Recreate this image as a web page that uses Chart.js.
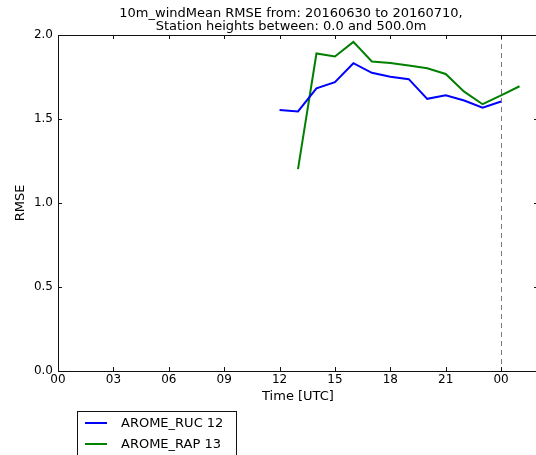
<!DOCTYPE html>
<html>
<head>
<meta charset="utf-8">
<script src="https://cdn.jsdelivr.net/npm/chart.js@4/dist/chart.umd.min.js"></script>
<style>
  html, body { margin: 0; padding: 0; background: #fff; overflow: hidden; width: 536px; height: 455px; }
  #rmseChart { position: absolute; left: 0; top: 0; }
</style>
</head>
<body>
<canvas id="rmseChart" width="545" height="455"></canvas>
<script>
const titleLines = ["10m_windMean RMSE from: 20160630 to 20160710,", "Station heights between: 0.0 and 500.0m"];

const rucLabel = "AROME_RUC 12";
const rucHours = [12, 13, 14, 15, 16, 17, 18, 19, 20, 21, 22, 23, 24];
const rucRmse = [1.554, 1.545, 1.683, 1.719, 1.832, 1.775, 1.751, 1.737, 1.620, 1.641, 1.610, 1.568, 1.604];

const rapLabel = "AROME_RAP 13";
const rapHours = [13, 14, 15, 16, 17, 18, 19, 20, 21, 22, 23, 24, 25];
const rapRmse = [1.202, 1.890, 1.872, 1.959, 1.842, 1.834, 1.818, 1.802, 1.768, 1.663, 1.588, 1.641, 1.695];

const xTicks = [0, 3, 6, 9, 12, 15, 18, 21, 24];
const xTickLabels = ["00", "03", "06", "09", "12", "15", "18", "21", "00"];
const yTicks = [0, 0.5, 1.0, 1.5, 2.0];
const dayBreak = 24;

const FONT = "'DejaVu Sans', sans-serif";

function toPoints(hours, vals) {
  return hours.map((h, i) => ({ x: h, y: vals[i] }));
}

// frame, inward ticks, dashed day line, title and boxed legend
const decor = {
  id: "decor",
  beforeDatasetsDraw(chart) {
    const { ctx, chartArea: a, scales: { x } } = chart;
    const px = x.getPixelForValue(dayBreak);
    ctx.save();
    ctx.strokeStyle = "#7a7a7a";
    ctx.lineWidth = 1;
    ctx.setLineDash([5, 4]);
    ctx.beginPath();
    ctx.moveTo(Math.round(px) + 0.5, a.top);
    ctx.lineTo(Math.round(px) + 0.5, a.bottom);
    ctx.stroke();
    ctx.restore();
  },
  afterDraw(chart) {
    const { ctx, chartArea: a, scales: { x, y } } = chart;
    ctx.save();
    ctx.strokeStyle = "#111";
    ctx.lineWidth = 1;
    ctx.strokeRect(Math.round(a.left) + 0.5, Math.round(a.top) + 0.5,
      Math.round(a.right - a.left), Math.round(a.bottom - a.top));

    ctx.beginPath();
    xTicks.forEach(v => {
      const px = Math.round(x.getPixelForValue(v)) + 0.5;
      ctx.moveTo(px, a.bottom); ctx.lineTo(px, a.bottom - 4);
      ctx.moveTo(px, a.top); ctx.lineTo(px, a.top + 4);
    });
    yTicks.forEach(v => {
      const py = Math.round(y.getPixelForValue(v)) + 0.5;
      ctx.moveTo(a.left, py); ctx.lineTo(a.left + 4, py);
      ctx.moveTo(a.right, py); ctx.lineTo(a.right - 4, py);
    });
    ctx.stroke();

    // title
    ctx.fillStyle = "#000";
    ctx.font = "13px " + FONT;
    ctx.textAlign = "center";
    ctx.textBaseline = "middle";
    titleLines.forEach((t, i) => ctx.fillText(t, 291, 14 + i * 13));

    // legend
    const lx = 77.5, ly = 411.5, lw = 159, lh = 60;
    ctx.strokeStyle = "#111";
    ctx.strokeRect(lx, ly, lw, lh);
    ctx.font = "13px " + FONT;
    ctx.textAlign = "left";
    chart.data.datasets.forEach((ds, i) => {
      const ry = 423 + i * 21;
      ctx.strokeStyle = ds.borderColor;
      ctx.lineWidth = 2;
      ctx.beginPath();
      ctx.moveTo(85, ry); ctx.lineTo(107, ry);
      ctx.stroke();
      ctx.fillStyle = "#000";
      ctx.fillText(ds.label, 121, ry + 1);
    });
    ctx.restore();
  }
};

const ctx = document.getElementById("rmseChart").getContext("2d");
new Chart(ctx, {
  type: "line",
  data: {
    datasets: [
      {
        label: rucLabel,
        data: toPoints(rucHours, rucRmse),
        borderColor: "#0000ff",
        borderWidth: 2,
        pointRadius: 0,
        tension: 0,
        fill: false
      },
      {
        label: rapLabel,
        data: toPoints(rapHours, rapRmse),
        borderColor: "#008000",
        borderWidth: 2,
        pointRadius: 0,
        tension: 0,
        fill: false
      }
    ]
  },
  options: {
    responsive: false,
    animation: false,
    events: [],
    layout: { padding: { top: 35, right: 7, bottom: 50.2, left: 0 } },
    plugins: { legend: { display: false }, tooltip: { enabled: false }, title: { display: false } },
    scales: {
      x: {
        type: "linear",
        min: 0,
        max: 26,
        afterBuildTicks: s => { s.ticks = xTicks.map(v => ({ value: v })); },
        afterFit: s => { s.height = 33.8; },
        grid: { display: false, drawTicks: false },
        border: { display: false },
        ticks: {
          padding: 2,
          color: "#000",
          font: { family: FONT, size: 12 },
          callback: v => xTickLabels[xTicks.indexOf(v)]
        },
        title: { display: true, text: "Time [UTC]", color: "#000", padding: 0, font: { family: FONT, size: 13 } }
      },
      y: {
        min: 0,
        max: 2,
        afterBuildTicks: s => { s.ticks = yTicks.map(v => ({ value: v })); },
        afterFit: s => { s.width = 58; },
        grid: { display: false, drawTicks: false },
        border: { display: false },
        ticks: {
          padding: 5,
          color: "#000",
          font: { family: FONT, size: 12 },
          callback: v => v.toFixed(1)
        },
        title: { display: true, text: "RMSE", color: "#000", padding: { top: 13, bottom: 0 }, font: { family: FONT, size: 13 } }
      }
    }
  },
  plugins: [decor]
});
</script>
</body>
</html>
